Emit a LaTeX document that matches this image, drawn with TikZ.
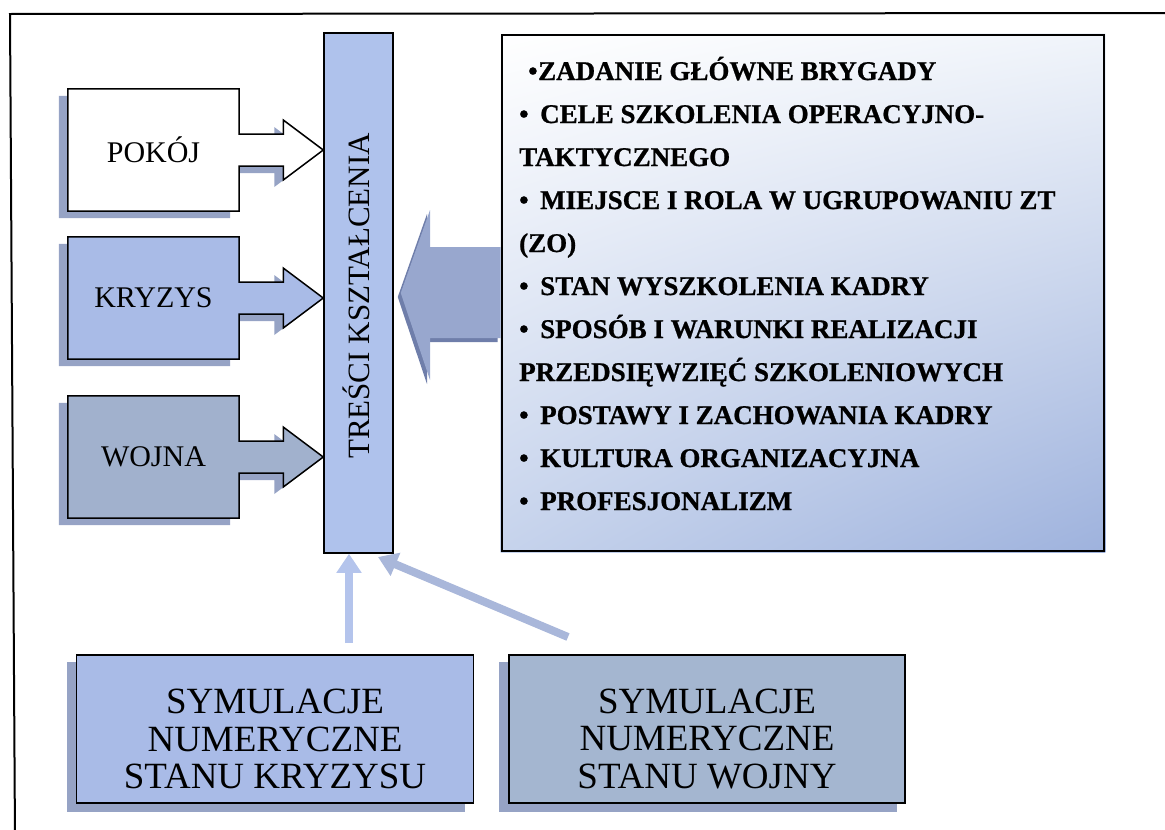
\documentclass[tikz,border=0pt]{standalone}
\usepackage{fontspec}
\setmainfont{Liberation Serif}[BoldFeatures={FakeBold=0.8}]
\usetikzlibrary{calc,arrows.meta,shadings}
\pgfdeclarelayer{bg}
\pgfsetlayers{bg,main}
\definecolor{kblue}{HTML}{A9BBE7}
\definecolor{barblue}{HTML}{AFC2EC}
\definecolor{wgray}{HTML}{A1B1CD}
\definecolor{wgray2}{HTML}{A4B6D0}
\definecolor{shad}{HTML}{96A3C5}
\definecolor{bigarr}{HTML}{98A7CE}
\definecolor{bigshad}{HTML}{6F7EAA}
\definecolor{rboxlr}{HTML}{9EB2DD}
\definecolor{rboxll}{HTML}{C6D3EC}
\definecolor{rboxur}{HTML}{F0F4FA}
\definecolor{thinA}{HTML}{B4C4EC}
\definecolor{thinB}{HTML}{A9B7DA}
\begin{document}
\begin{tikzpicture}[x=1pt,y=-1pt,
  sidebox/.style={rectangle, minimum width=171pt, minimum height=122pt, inner sep=0pt,
    font=\fontsize{30}{32}\selectfont},
  simbox/.style={rectangle, draw=black, line width=1.8pt, minimum width=397pt, minimum height=148pt,
    inner sep=0pt},
  simtext/.style={inner sep=0pt, align=center, font=\fontsize{37}{37.5}\selectfont},
  item/.style={anchor=base west, inner sep=0pt, font=\bfseries\fontsize{27}{30}\selectfont},
  thinarrow/.style={line width=8pt, -{Triangle[width=24pt,length=19pt]}}
]
\useasboundingbox (0,0) rectangle (1165,830);
\clip (0,0) rectangle (1165,830);

% frame
\draw[line width=2pt] (15,840) -- (10,14) -- (1175,13);

% central bar
\node[rectangle, draw=black, line width=1.5pt, fill=barblue, minimum width=69pt, minimum height=520pt, inner sep=0pt]
  (bar) at (358.5,293) {};
\node[rotate=90, inner sep=0pt, font=\fontsize{31}{33}\selectfont] (bart) at (356,296) {TREŚCI KSZTAŁCENIA};

% left boxes
\node[sidebox] (pok) at (153.5,150) {POKÓJ};
\node[sidebox] (kry) at (153.5,298) {KRYZYS};
\node[sidebox] (woj) at (153.5,457) {WOJNA};
\coordinate (pok-t) at (pok.east -| bar.west);
\coordinate (kry-t) at (kry.east -| bar.west);
\coordinate (woj-t) at (woj.east -| bar.west);

\begin{pgfonlayer}{bg}
  \foreach \b/\c in {pok/white, kry/kblue, woj/wgray} {
    \fill[shad, transform canvas={shift={(-9pt,-7pt)}}]
      (\b.north west) -- (\b.north east) -- ($(\b.east)+(0,-16)$) -- ($(\b-t)+(-40,-16)$)
      -- ($(\b-t)+(-40,-30)$) -- (\b-t) -- ($(\b-t)+(-40,30)$) -- ($(\b-t)+(-40,16)$)
      -- ($(\b.east)+(0,16)$) -- (\b.south east) -- (\b.south west) -- cycle;
    \filldraw[fill=\c, draw=black, line width=1.5pt, line join=miter]
      (\b.north west) -- (\b.north east) -- ($(\b.east)+(0,-16)$) -- ($(\b-t)+(-40,-16)$)
      -- ($(\b-t)+(-40,-30)$) -- (\b-t) -- ($(\b-t)+(-40,30)$) -- ($(\b-t)+(-40,16)$)
      -- ($(\b.east)+(0,16)$) -- (\b.south east) -- (\b.south west) -- cycle;
  }
\end{pgfonlayer}

% right box
\node[rectangle, draw=black, line width=2.6pt, minimum width=602pt, minimum height=516pt, inner sep=0pt]
  (rbox) at (803,293) {};
\begin{pgfonlayer}{bg}
  \shade[upper left=white, upper right=rboxur, lower left=rboxll, lower right=rboxlr]
    (rbox.north west) rectangle (rbox.south east);
\end{pgfonlayer}

\node[item] (r1) at (528,80) {\makebox[10pt][l]{•}ZADANIE GŁÓWNE BRYGADY};
\node[item] (r2) at (519,123) {\makebox[21pt][l]{•}CELE SZKOLENIA OPERACYJNO-};
\node[item] (r3) at (519,166) {TAKTYCZNEGO};
\node[item] (r4) at (519,209) {\makebox[21pt][l]{•}MIEJSCE I ROLA W UGRUPOWANIU ZT};
\node[item] (r5) at (519,252) {(ZO)};
\node[item] (r6) at (519,295) {\makebox[21pt][l]{•}STAN WYSZKOLENIA KADRY};
\node[item] (r7) at (519,338) {\makebox[21pt][l]{•}SPOSÓB I WARUNKI REALIZACJI};
\node[item] (r8) at (519,381) {PRZEDSIĘWZIĘĆ SZKOLENIOWYCH};
\node[item] (r9) at (519,424) {\makebox[21pt][l]{•}POSTAWY I ZACHOWANIA KADRY};
\node[item] (r10) at (519,467) {\makebox[21pt][l]{•}KULTURA ORGANIZACYJNA};
\node[item] (r11) at (519,510) {\makebox[21pt][l]{•}PROFESJONALIZM};

% big arrow from right box to bar
\coordinate (bt) at ($(bar.east)+(7,0)$);
\begin{pgfonlayer}{bg}
  \fill[bigshad, transform canvas={shift={(-3pt,-4pt)}}]
    (rbox.west |- 0,247) -- (430,247) -- (430,210) -- (bt) -- (430,380) -- (430,338) -- (rbox.west |- 0,338) -- cycle;
  \fill[bigarr]
    (rbox.west |- 0,247) -- (430,247) -- (430,210) -- (bt) -- (430,380) -- (430,338) -- (rbox.west |- 0,338) -- cycle;
\end{pgfonlayer}

% bottom boxes
\node[simbox, fill=kblue] (sym1) at (275,729) {};
\node[simbox, fill=wgray2, minimum width=396pt] (sym2) at (707,729) {};
\node[simtext] (sym1t) at ($(sym1.center)+(0,10)$) {SYMULACJE\\NUMERYCZNE\\STANU KRYZYSU};
\node[simtext] (sym2t) at ($(sym2.center)+(0,10)$) {SYMULACJE\\NUMERYCZNE\\STANU WOJNY};
\begin{pgfonlayer}{bg}
  \fill[shad, transform canvas={shift={(-9pt,-8pt)}}] (sym1.north west) rectangle (sym1.south east);
  \fill[shad, transform canvas={shift={(-9pt,-8pt)}}] (sym2.north west) rectangle (sym2.south east);
\end{pgfonlayer}

% thin arrows towards the bar
\coordinate (va) at (349,643);
\coordinate (da) at (568,637);
\coordinate (db) at (378,557);
\draw[thinarrow, thinA] (va) -- (va |- bar.south);
\draw[thinarrow, thinB] (da) -- (db);
\end{tikzpicture}
\end{document}
